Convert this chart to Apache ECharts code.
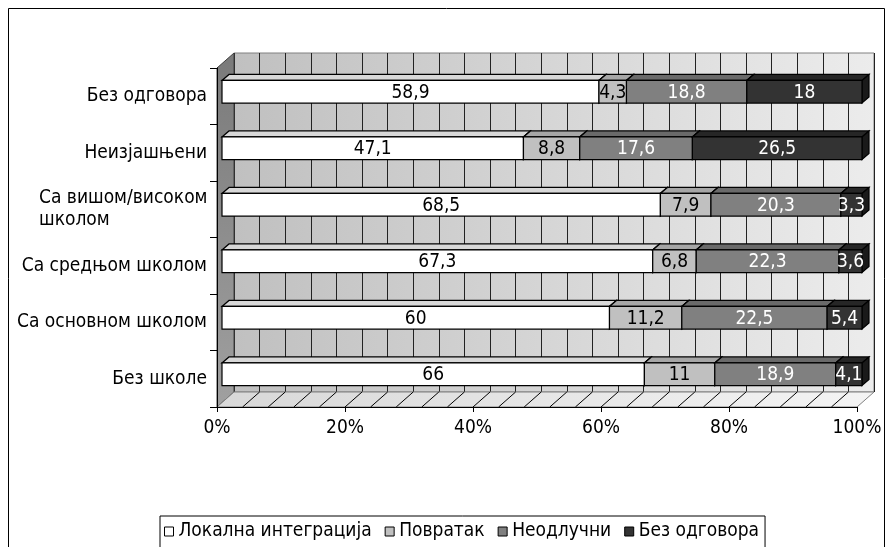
<!DOCTYPE html>
<html><head><meta charset="utf-8">
<script src="https://cdn.jsdelivr.net/npm/echarts@6/dist/echarts.min.js"></script>
<style>html,body{margin:0;padding:0;background:#fff}#c{width:892px;height:547px}</style>
</head><body><div id="c"></div>
<script>
const categories = ['Без школе','Са основном школом','Са средњом школом','Са вишом/високом школом','Неизјашњени','Без одговора'];
const seriesNames = ['Локална интеграција','Повратак','Неодлучни','Без одговора'];
const localIntegration = [66, 60, 67.3, 68.5, 47.1, 58.9];
const returnHome = [11, 11.2, 6.8, 7.9, 8.8, 4.3];
const undecided = [18.9, 22.5, 22.3, 20.3, 17.6, 18.8];
const noAnswer = [4.1, 5.4, 3.6, 3.3, 26.5, 18];
const xTickLabels = ['0%','20%','40%','60%','80%','100%'];

const FONT = '"DejaVu Sans Condensed", "Liberation Sans Narrow", "DejaVu Sans"';
const FS = 19;
const faceColors = ['#ffffff','#c0c0c0','#808080','#333333'];
const topColors = ['#d8d8d8','#a6a6a6','#6a6a6a','#262626'];
const sideColors = ['#c0c0c0','#8c8c8c','#555555','#1a1a1a'];
const textColors = ['#000','#000','#fff','#fff'];
const WDX = 17, WDY = -15;   // wall depth offset
const BX = 5, BY = -4.5;     // bar front offset
const DX = 7, DY = -6;       // bar depth

const allSeries = [localIntegration, returnHome, undecided, noAnswer];
const totals = categories.map((c, i) => allSeries.reduce((s, a) => s + a[i], 0));

function fmt(v){ return String(v).replace('.', ','); }

const barSeries = allSeries.map((arr, si) => {
  const data = arr.map((v, ci) => {
    let start = 0;
    for (let k = 0; k < si; k++) start += allSeries[k][ci];
    const s = start / totals[ci] * 100, e = (start + v) / totals[ci] * 100;
    return [s, e, ci, v];
  });
  return {
    name: seriesNames[si], type: 'custom', xAxisIndex: 0, yAxisIndex: 0, z: 3,
    itemStyle: {color: faceColors[si], borderColor: '#000', borderWidth: 1},
    encode: {x: [0, 1], y: 2},
    data: data,
    renderItem: function (params, api) {
      const p0 = api.coord([api.value(0), api.value(2)]);
      const p1 = api.coord([api.value(1), api.value(2)]);
      const band = api.size([0, 1])[1];
      const h = band * 0.4;
      const x0 = p0[0] + BX, x1 = p1[0] + BX;
      const y0 = p0[1] + BY - h / 2, y1 = y0 + h;
      const st = {stroke: '#000', lineWidth: 1.2};
      return {type: 'group', children: [
        {type: 'polygon', shape: {points: [[x0, y0], [x1, y0], [x1 + DX, y0 + DY], [x0 + DX, y0 + DY]]},
          style: Object.assign({fill: topColors[si]}, st)},
        {type: 'polygon', shape: {points: [[x1, y0], [x1 + DX, y0 + DY], [x1 + DX, y1 + DY], [x1, y1]]},
          style: Object.assign({fill: sideColors[si]}, st)},
        {type: 'rect', shape: {x: x0, y: y0, width: x1 - x0, height: h},
          style: Object.assign({fill: faceColors[si]}, st)},
        {type: 'text', x: (x0 + x1) / 2, y: (y0 + y1) / 2 + 1,
          style: {text: fmt(api.value(3)), fill: textColors[si], font: FS + 'px ' + FONT, align: 'center', verticalAlign: 'middle'}}
      ]};
    }
  };
});

const decor = {
  type: 'custom', xAxisIndex: 0, yAxisIndex: 0, z: 1, silent: true, legendHoverLink: false,
  data: [[0, 0]],
  renderItem: function (params, api) {
    const cs = params.coordSys;
    const x = cs.x, y = cs.y, w = cs.width, h = cs.height;
    const children = [];
    children.push({type: 'polygon', shape: {points: [[x, y], [x + WDX, y + WDY], [x + WDX, y + h + WDY], [x, y + h]]},
      style: {fill: {type: 'linear', x: 0, y: 0, x2: 0, y2: 1, colorStops: [{offset: 0, color: '#7a7a7a'}, {offset: 1, color: '#a0a0a0'}]}, stroke: '#404040', lineWidth: 1}});
    children.push({type: 'polygon', shape: {points: [[x, y + h], [x + w, y + h], [x + w + WDX, y + h + WDY], [x + WDX, y + h + WDY]]},
      style: {fill: {type: 'linear', x: 0, y: 0, x2: 1, y2: 0, colorStops: [{offset: 0, color: '#d8d8d8'}, {offset: 1, color: '#f4f4f4'}]}, stroke: '#808080', lineWidth: 1}});
    for (let v = 4; v < 100; v += 4) {
      const px = api.coord([v, 0])[0];
      children.push({type: 'line', shape: {x1: px, y1: y + h, x2: px + WDX, y2: y + h + WDY}, style: {stroke: '#000', lineWidth: 1}});
    }
    return {type: 'group', children: children};
  }
};

const chart = echarts.init(document.getElementById('c'), null, {renderer: 'canvas'});
chart.setOption({
  backgroundColor: '#fff',
  animation: false,
  graphic: [{type: 'rect', shape: {x: 8.5, y: 8.5, width: 876, height: 580}, style: {fill: 'none', stroke: '#000', lineWidth: 1}, z: -10}],
  grid: [
    {left: 217, right: 35, top: 68, bottom: 140, containLabel: false},
    {left: 234, right: 18, top: 53, bottom: 155, show: true, z: 0,
      backgroundColor: {type: 'linear', x: 0, y: 0, x2: 1, y2: 0, colorStops: [{offset: 0, color: '#c0c0c0'}, {offset: 1, color: '#ececec'}]},
      borderColor: '#808080', borderWidth: 1}
  ],
  xAxis: [
    {gridIndex: 0, type: 'value', min: 0, max: 100, interval: 20, z: 5,
      axisLine: {show: true, lineStyle: {color: '#000'}},
      axisTick: {show: true, length: 5, lineStyle: {color: '#000'}},
      splitLine: {show: false},
      axisLabel: {margin: 12, color: '#000', fontSize: FS, fontFamily: FONT, formatter: (v) => xTickLabels[Math.round(v / 20)]}},
    {gridIndex: 1, type: 'value', min: 0, max: 100, interval: 4,
      axisLine: {show: false}, axisTick: {show: false}, axisLabel: {show: false},
      splitLine: {show: true, lineStyle: {color: '#222', width: 1}}}
  ],
  yAxis: [
    {gridIndex: 0, type: 'category', data: categories, z: 5,
      axisLine: {show: true, lineStyle: {color: '#000'}},
      axisTick: {show: true, length: 7, lineStyle: {color: '#000'}},
      axisLabel: {margin: 10, color: '#000', fontSize: FS, fontFamily: FONT,
        formatter: (v) => v === 'Са вишом/високом школом' ? '{w|Са вишом/високом}\n{w|школом}' : v,
        rich: {w: {width: 168, align: 'left', fontSize: FS, fontFamily: FONT, color: '#000', lineHeight: 22}}}},
    {gridIndex: 1, type: 'value', show: false, min: 0, max: 1}
  ],
  legend: {
    left: 160, top: 516, orient: 'horizontal',
    data: seriesNames,
    icon: 'rect', itemWidth: 9, itemHeight: 9, itemGap: 13,
    itemStyle: {borderColor: '#000', borderWidth: 1},
    borderColor: '#000', borderWidth: 1, padding: [6, 6, 30, 4],
    textStyle: {color: '#000', fontSize: FS, fontFamily: FONT}
  },
  series: [decor].concat(barSeries)
});
</script></body></html>
